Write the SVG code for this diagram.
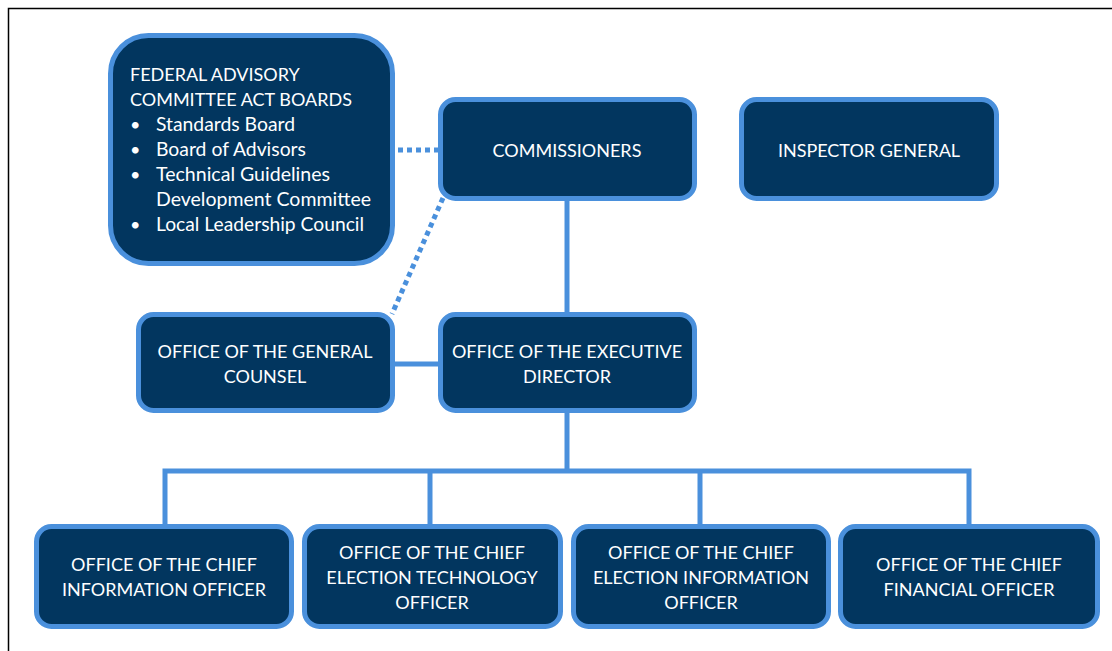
<svg xmlns="http://www.w3.org/2000/svg" width="1112" height="651" viewBox="0 0 1112 651">
<style>
.box{fill:#02365f;stroke:#4a90dc;stroke-width:5}
.t{font-family:Lato,"Liberation Sans",sans-serif;font-size:18px;fill:#fff}
.m{font-size:19px}
.c{text-anchor:middle}
.ln{fill:none;stroke:#4a90dc;stroke-width:5}
.dot{fill:none;stroke:#4a90dc;stroke-width:5;stroke-dasharray:5 4}
</style>
<rect x="0" y="0" width="1112" height="651" fill="#fff"/>
<path d="M8.5 651 V8.5 H1112" fill="none" stroke="#000" stroke-width="1.5"/>
<g id="connectors">
<path class="ln" d="M567 200 V312"/>
<path class="ln" d="M394 364 H438"/>
<path class="ln" d="M567 412 V471 M165 524 V471 H969 V524 M430 471 V524 M700 471 V524"/>
<path class="dot" d="M398 150 H438"/>
<path class="dot" d="M443 198 L392 314"/>
</g>
<g id="faca">
<rect class="box" x="110.500" y="35.500" width="282" height="228" rx="38"/>
<text class="t" x="130" y="81">FEDERAL ADVISORY</text>
<text class="t" x="130" y="106">COMMITTEE ACT BOARDS</text>
<text class="t" x="130" y="131">•</text><text class="t m" x="156" y="131" textLength="139" lengthAdjust="spacingAndGlyphs">Standards Board</text>
<text class="t" x="130" y="156">•</text><text class="t m" x="156" y="156" textLength="150" lengthAdjust="spacingAndGlyphs">Board of Advisors</text>
<text class="t" x="130" y="181">•</text><text class="t m" x="156" y="181" textLength="174" lengthAdjust="spacingAndGlyphs">Technical Guidelines</text>
<text class="t m" x="156" y="206" textLength="215" lengthAdjust="spacingAndGlyphs">Development Committee</text>
<text class="t" x="130" y="231">•</text><text class="t m" x="156" y="231" textLength="208" lengthAdjust="spacingAndGlyphs">Local Leadership Council</text>
</g>
<g id="commissioners">
<rect class="box" x="440.500" y="99.500" width="254" height="99" rx="15"/>
<text class="t c" x="567" y="157">COMMISSIONERS</text>
</g>
<g id="inspector">
<rect class="box" x="741.500" y="99.500" width="255" height="99" rx="15"/>
<text class="t c" x="869" y="157">INSPECTOR GENERAL</text>
</g>
<g id="counsel">
<rect class="box" x="138.500" y="314.500" width="254" height="96" rx="15"/>
<text class="t c" x="265" y="358">OFFICE OF THE GENERAL</text>
<text class="t c" x="265" y="383">COUNSEL</text>
</g>
<g id="executive">
<rect class="box" x="440.500" y="314.500" width="254" height="96" rx="15"/>
<text class="t c" x="567" y="358">OFFICE OF THE EXECUTIVE</text>
<text class="t c" x="567" y="383">DIRECTOR</text>
</g>
<g id="cio">
<rect class="box" x="36.500" y="526.500" width="255" height="100" rx="15"/>
<text class="t c" x="164" y="571">OFFICE OF THE CHIEF</text>
<text class="t c" x="164" y="596">INFORMATION OFFICER</text>
</g>
<g id="ceto">
<rect class="box" x="304.500" y="526.500" width="256" height="100" rx="15"/>
<text class="t c" x="432" y="559">OFFICE OF THE CHIEF</text>
<text class="t c" x="432" y="584">ELECTION TECHNOLOGY</text>
<text class="t c" x="432" y="609">OFFICER</text>
</g>
<g id="ceio">
<rect class="box" x="573.500" y="526.500" width="255" height="100" rx="15"/>
<text class="t c" x="701" y="559">OFFICE OF THE CHIEF</text>
<text class="t c" x="701" y="584">ELECTION INFORMATION</text>
<text class="t c" x="701" y="609">OFFICER</text>
</g>
<g id="cfo">
<rect class="box" x="840.500" y="526.500" width="257" height="100" rx="15"/>
<text class="t c" x="969" y="571">OFFICE OF THE CHIEF</text>
<text class="t c" x="969" y="596">FINANCIAL OFFICER</text>
</g>
</svg>
